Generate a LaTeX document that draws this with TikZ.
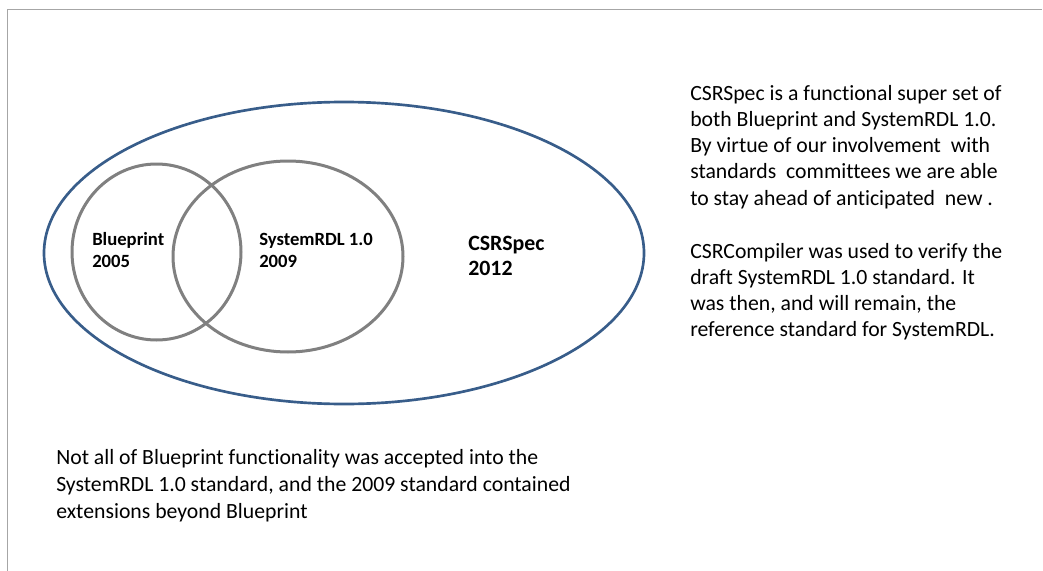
\documentclass[tikz,border=0pt]{standalone}
\usepackage{fontspec}
\setmainfont{Carlito}[Ligatures=NoCommon]
\usetikzlibrary{shapes.geometric}
\definecolor{venngray}{RGB}{128,128,128}
\definecolor{specblue}{RGB}{56,93,138}
\definecolor{framegray}{RGB}{166,166,166}

\begin{document}
\begin{tikzpicture}[x=0.75pt,y=-0.75pt,
  vennring/.style={ellipse, draw=venngray, line width=2.25pt, inner sep=0pt},
  vennlabel/.style={font=\fontsize{14}{16.5}\selectfont\bfseries, align=left, anchor=base west, inner sep=0pt},
  notetext/.style={font=\fontsize{16.3}{19.65}\selectfont, align=left, anchor=base west, inner sep=0pt}]
\useasboundingbox (0,0) rectangle (1043,571);
\draw[framegray, line width=1.1pt] (7.3,571) -- (7.3,9.5) -- (1042,9.5);
\node[ellipse, draw=specblue, line width=2pt, minimum width=450pt, minimum height=226.5pt] (csrspec) at (344,253) {};
\node[vennring, minimum width=126.75pt, minimum height=132pt] (blueprint) at (156.5,252) {};
\node[vennring, minimum width=172.5pt, minimum height=143.25pt] (systemrdl) at (288,256.5) {};
% anchors sit on the last line
\node[vennlabel] (bptext) at (92,267) {Blueprint\\2005};
\node[vennlabel] (rdltext) at (259,267) {SystemRDL 1.0\\2009};
\node[vennlabel, font=\fontsize{16.4}{18.75}\selectfont\bfseries] (spectext) at (468,275) {CSRSpec\\2012};
\node[notetext] (supertext) at (690,205) {CSRSpec is a functional super set of\\
both Blueprint and SystemRDL 1.0.\\
By virtue of our involvement~ with\\
standards~ committees we are able\\
to stay ahead of anticipated~ new .};
\node[notetext] (compilertext) at (690,336.7) {CSRCompiler was used to verify the\\
draft SystemRDL 1.0 standard. It\\
was then, and will remain, the\\
reference standard for SystemRDL.};
\node[notetext, font=\fontsize{16.3}{20.25}\selectfont] (bottomtext) at (56,518) {Not all of Blueprint functionality was accepted into the\\
SystemRDL 1.0 standard, and the 2009 standard contained\\
extensions beyond Blueprint};
\end{tikzpicture}
\end{document}
